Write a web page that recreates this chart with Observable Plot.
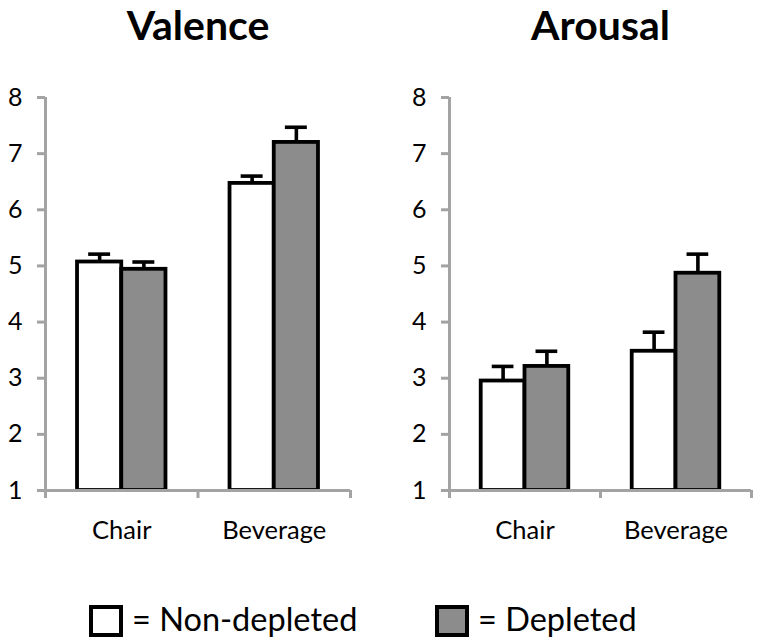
<!DOCTYPE html>
<html>
<head>
<meta charset="utf-8">
<script src="https://cdn.jsdelivr.net/npm/d3@7"></script>
<script src="https://cdn.jsdelivr.net/npm/@observablehq/plot@0.6"></script>
<style>
  html, body { margin: 0; padding: 0; background: #fff; }
  #root { position: relative; width: 760px; height: 640px; font-family: Lato, sans-serif; color: #000; }
  .panel { position: absolute; top: 0; }
  #legend { position: absolute; top: 601px; left: 89px; display: flex; }
  .item { display: flex; align-items: center; width: 346px; }
  .box { box-sizing: border-box; width: 34px; height: 32px; border: 4px solid #000; }
  .lab { margin-left: 9px; font-size: 32.5px; position: relative; top: -2px; white-space: pre; }
</style>
</head>
<body>
<div id="root"></div>
<script>
// ---- data ----
const categories = ["Chair", "Beverage"];
const conditions = ["Non-depleted", "Depleted"];
const conditionFills = ["#ffffff", "#8c8c8c"];
const yTicks = [1, 2, 3, 4, 5, 6, 7, 8];

const panelTitles = ["Valence", "Arousal"];
const valenceNonDepleted = [5.07, 6.47];
const valenceDepleted = [4.94, 7.20];
const valenceNonDepletedErr = [0.14, 0.13];
const valenceDepletedErr = [0.13, 0.27];

const arousalNonDepleted = [2.95, 3.48];
const arousalDepleted = [3.21, 4.87];
const arousalNonDepletedErr = [0.26, 0.34];
const arousalDepletedErr = [0.27, 0.34];

// ---- drawing ----
const GRAY = "#a3a3a3";
const barW = 0.29;   // width of one bar in category units
const capW = 0.072;  // half width of error cap in category units

function rowsFor(nd, d, ndE, dE) {
  return categories.flatMap((c, ci) => conditions.map((cond, k) => {
    const x1 = ci + 0.5 - barW + k * barW;
    return {
      category: c, condition: cond,
      value: k === 0 ? nd[ci] : d[ci],
      err: k === 0 ? ndE[ci] : dE[ci],
      x1, x2: x1 + barW, xc: x1 + barW / 2
    };
  }));
}

function panel(title, rows, marginRight) {
  return Plot.plot({
    width: 380, height: 540,
    marginLeft: 45, marginRight, marginTop: 97, marginBottom: 50,
    x: {domain: [0, categories.length], axis: null},
    y: {domain: [1, 8], axis: null},
    color: {domain: conditions, range: conditionFills},
    style: {fontFamily: "Lato, sans-serif", fontSize: "25px", color: "#000", background: "#fff", overflow: "visible"},
    marks: [
      Plot.rectY(rows, {x1: "x1", x2: "x2", y1: 1, y2: "value", fill: "condition", stroke: "#000", strokeWidth: 3.8}),
      Plot.ruleX(rows, {x: "xc", y1: "value", y2: d => d.value + d.err, stroke: "#000", strokeWidth: 3.6}),
      Plot.ruleY(rows, {y: d => d.value + d.err, x1: d => d.xc - capW, x2: d => d.xc + capW, stroke: "#000", strokeWidth: 3.6}),
      Plot.ruleY([1], {stroke: GRAY, strokeWidth: 3}),
      Plot.ruleX([0], {y1: 1, y2: 8, stroke: GRAY, strokeWidth: 3}),
      Plot.axisY({ticks: yTicks, tickFormat: d => String(d), tickSize: 8, tickPadding: 15, stroke: GRAY, strokeWidth: 3, fill: "#000", fontSize: 25, label: null}),
      Plot.axisX({ticks: d3.range(categories.length + 1), tickFormat: () => "", tickSize: 8, stroke: GRAY, strokeWidth: 3, label: null}),
      Plot.axisX({ticks: categories.map((c, i) => i + 0.5), tickFormat: t => categories[Math.floor(t)], tickSize: 0, tickPadding: 30, fill: "#000", fontSize: 25.5, label: null}),
      Plot.text([title], {frameAnchor: "top", dy: -58, lineAnchor: "bottom", fontSize: 41, fontWeight: "bold", fill: "#000"})
    ]
  });
}

const root = document.getElementById("root");
const p1 = panel(panelTitles[0], rowsFor(valenceNonDepleted, valenceDepleted, valenceNonDepletedErr, valenceDepletedErr), 30);
p1.classList.add("panel"); p1.style.left = "0px";
const p2 = panel(panelTitles[1], rowsFor(arousalNonDepleted, arousalDepleted, arousalNonDepletedErr, arousalDepletedErr), 33);
p2.classList.add("panel"); p2.style.left = "404px";
root.appendChild(p1);
root.appendChild(p2);

const legend = document.createElement("div");
legend.id = "legend";
conditions.forEach((c, i) => {
  const item = document.createElement("div");
  item.className = "item";
  const box = document.createElement("div");
  box.className = "box";
  box.style.background = conditionFills[i];
  const lab = document.createElement("span");
  lab.className = "lab";
  lab.textContent = "= " + c;
  item.appendChild(box);
  item.appendChild(lab);
  legend.appendChild(item);
});
root.appendChild(legend);
</script>
</body>
</html>
